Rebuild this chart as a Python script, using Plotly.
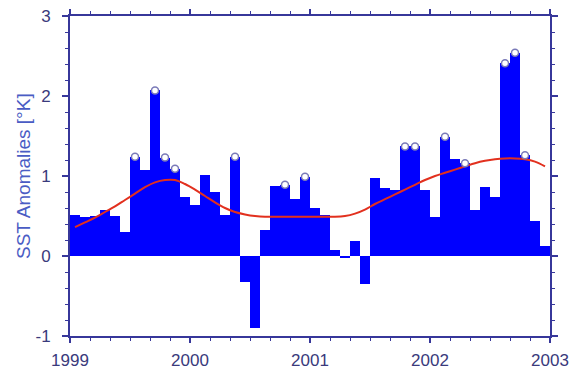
import plotly.graph_objects as go

# Monthly SST anomalies, Jan 1999 - Dec 2002 (deg K)
anomaly = [0.51, 0.49, 0.50, 0.57, 0.50, 0.30, 1.24, 1.08, 2.07, 1.23, 1.09, 0.74,
           0.64, 1.01, 0.80, 0.51, 1.24, -0.33, -0.90, 0.33, 0.87, 0.89, 0.71, 0.99,
           0.60, 0.51, 0.07, -0.03, 0.19, -0.35, 0.98, 0.85, 0.83, 1.37, 1.37, 0.83,
           0.49, 1.49, 1.21, 1.16, 0.58, 0.86, 0.74, 2.41, 2.54, 1.26, 0.44, 0.12]

# Smoothed trend of the anomalies, one value per month
trend = [0.36, 0.42, 0.48, 0.55, 0.62, 0.70, 0.78, 0.86, 0.92, 0.95, 0.95, 0.90,
         0.83, 0.75, 0.67, 0.60, 0.55, 0.52, 0.50, 0.49, 0.49, 0.49, 0.49, 0.49,
         0.49, 0.49, 0.49, 0.50, 0.53, 0.58, 0.65, 0.71, 0.77, 0.83, 0.89, 0.95,
         1.00, 1.04, 1.08, 1.12, 1.16, 1.19, 1.21, 1.22, 1.22, 1.21, 1.18, 1.12]

# Months (1-based) flagged with an open circle
flagged = [7, 9, 10, 11, 17, 22, 24, 34, 35, 38, 40, 44, 45, 46]

year_ticks = [1999, 2000, 2001, 2002, 2003]
y_ticks = [-1, 0, 1, 2, 3]

start_year = 1999
months = [start_year + (i + 0.5) / 12 for i in range(len(anomaly))]

axis_col = "#37379a"
tick_col = "#3a3a7c"
font_family = "Liberation Sans, Arial, sans-serif"

fig = go.Figure()

fig.add_trace(go.Bar(
    x=months, y=anomaly, width=1 / 12,
    marker=dict(color="#0000ff", line=dict(width=0)),
    hoverinfo="x+y",
))

fig.add_trace(go.Scatter(
    x=months, y=trend, mode="lines",
    line=dict(color="#e2301e", width=2, shape="spline", smoothing=1.0),
))

fig.add_trace(go.Scatter(
    x=[months[m - 1] for m in flagged],
    y=[anomaly[m - 1] for m in flagged],
    mode="markers",
    marker=dict(symbol="circle", size=7, color="white",
                line=dict(color="#7a7ab8", width=1.5)),
))

fig.update_layout(
    width=570, height=369,
    margin=dict(l=70, r=20, t=16, b=33),
    paper_bgcolor="white", plot_bgcolor="white",
    showlegend=False, bargap=0,
    font=dict(family=font_family, color=tick_col),
)

fig.update_xaxes(
    range=[1999, 2003], automargin=False,
    tickmode="array", tickvals=year_ticks,
    ticktext=[str(y) for y in year_ticks],
    tickfont=dict(size=17, color=tick_col, family=font_family),
    ticks="outside", ticklen=5, tickwidth=1.5, tickcolor=axis_col,
    ticklabelstandoff=3,
    minor=dict(dtick=1 / 6, tick0=1999, ticks="outside", ticklen=3,
               tickwidth=1, tickcolor=axis_col),
    showline=True, linecolor=axis_col, linewidth=2, mirror="ticks",
    showgrid=False, zeroline=False,
)

fig.update_yaxes(
    range=[-1, 3], automargin=False,
    tickmode="array", tickvals=y_ticks,
    ticktext=[str(v) for v in y_ticks],
    tickfont=dict(size=17, color=tick_col, family=font_family),
    ticks="outside", ticklen=6, tickwidth=1.5, tickcolor=axis_col,
    ticklabelstandoff=8,
    minor=dict(dtick=0.2, tick0=0, ticks="outside", ticklen=3,
               tickwidth=1, tickcolor=axis_col),
    showline=True, linecolor=axis_col, linewidth=2, mirror="ticks",
    showgrid=False, zeroline=False,
)

fig.add_annotation(
    text="SST Anomalies [°K]", textangle=-90,
    xref="paper", yref="paper", x=0, y=0.5,
    xanchor="center", yanchor="middle",
    xshift=-47, showarrow=False,
    font=dict(size=19, color="#4a5cc4", family=font_family),
)

fig.write_html("out.html")
